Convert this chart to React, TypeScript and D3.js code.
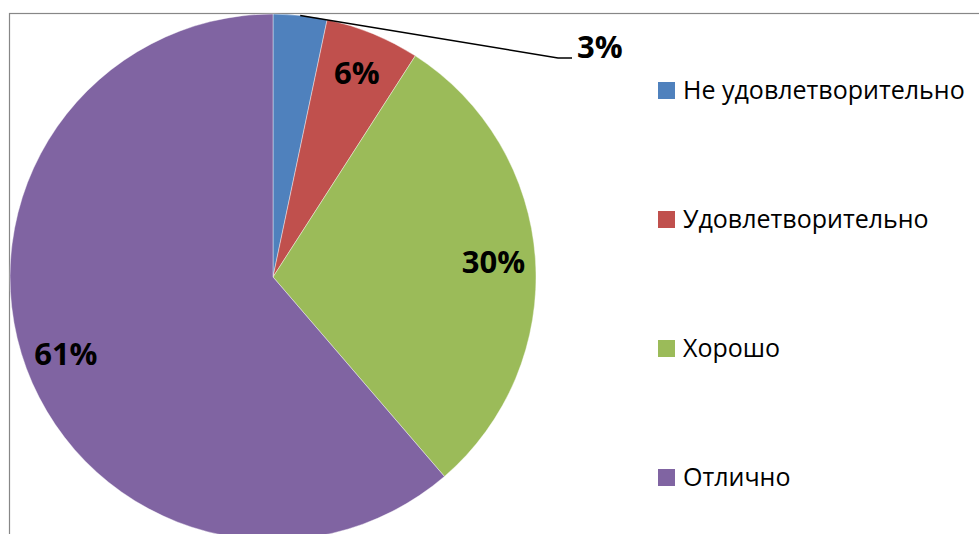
import * as d3 from "d3";
import React from "react";

// shares (percent)
const categories = ["Не удовлетворительно", "Удовлетворительно", "Хорошо", "Отлично"];
const shares = [3.3, 5.8, 29.6, 61.3];
const colors = ["#4F81BD", "#C0504D", "#9BBB59", "#8064A2"];

interface Slice {
  name: string;
  value: number;
  color: string;
}

function PieChart() {
  const svgRef = React.useRef<SVGSVGElement>(null);

  React.useEffect(() => {
    const width = 979;
    const height = 534;
    const cx = 273; // pie centre
    const cy = 277;
    const radius = 263;

    const data: Slice[] = categories.map((name, i) => ({
      name,
      value: shares[i],
      color: colors[i],
    }));
    const total = d3.sum(data, (d) => d.value);
    const fmt = d3.format(".0%");

    const svg = d3.select(svgRef.current);
    svg.selectAll("*").remove();
    svg.attr("width", width).attr("height", height).attr("viewBox", [0, 0, width, height]);

    // chart frame (only top and left are visible in the window)
    svg
      .append("rect")
      .attr("x", 9.5)
      .attr("y", 13.5)
      .attr("width", width + 20)
      .attr("height", height + 20)
      .attr("fill", "#fff")
      .attr("stroke", "#878787")
      .attr("stroke-width", 1.2);

    const pie = d3
      .pie<Slice>()
      .sort(null)
      .value((d) => d.value);
    const arcs = pie(data);

    const arc = d3.arc<d3.PieArcDatum<Slice>>().innerRadius(0).outerRadius(radius);
    const labelArc = d3
      .arc<d3.PieArcDatum<Slice>>()
      .innerRadius(radius * 0.84)
      .outerRadius(radius * 0.84);
    const edgeArc = d3.arc<d3.PieArcDatum<Slice>>().innerRadius(radius).outerRadius(radius);

    const g = svg.append("g").attr("transform", `translate(${cx},${cy})`);

    g.selectAll("path")
      .data(arcs)
      .join("path")
      .attr("d", arc)
      .attr("fill", (d) => d.data.color)
      .attr("stroke", "#fff")
      .attr("stroke-opacity", 0.5)
      .attr("stroke-width", 0.8);

    const labelStyle = (sel: any) =>
      sel
        .attr("font-family", "'Open Sans', 'DejaVu Sans', sans-serif")
        .attr("font-weight", "bold")
        .attr("font-size", 31)
        .attr("fill", "#000");

    // small slice -> label outside with a leader line
    arcs.forEach((d) => {
      const pct = d.value / total;
      if (pct < 0.05) {
        const [sx, sy] = edgeArc.centroid(d);
        const elbow: [number, number] = [radius + 22, -radius + 44];
        g.append("polyline")
          .attr("points", [[sx, sy], elbow, [elbow[0] + 14, elbow[1]]].map((p) => p.join(",")).join(" "))
          .attr("fill", "none")
          .attr("stroke", "#000")
          .attr("stroke-width", 1.5);
        g.append("text")
          .call(labelStyle)
          .attr("x", elbow[0] + 19)
          .attr("y", elbow[1])
          .attr("text-anchor", "start")
          .text(fmt(pct));
      } else {
        const [lx, ly] = labelArc.centroid(d);
        g.append("text")
          .call(labelStyle)
          .attr("x", lx)
          .attr("y", ly)
          .attr("dy", "0.36em")
          .attr("text-anchor", "middle")
          .text(fmt(pct));
      }
    });

    // legend
    const legendY = d3
      .scalePoint<string>()
      .domain(categories)
      .range([90.5, 477.5]);
    const legend = svg
      .append("g")
      .selectAll("g")
      .data(data)
      .join("g")
      .attr("transform", (d) => `translate(658,${legendY(d.name)})`);
    legend
      .append("rect")
      .attr("x", 0)
      .attr("y", -8.5)
      .attr("width", 17)
      .attr("height", 17)
      .attr("fill", (d) => d.color);
    legend
      .append("text")
      .attr("x", 25)
      .attr("y", 0)
      .attr("dy", "0.35em")
      .attr("font-family", "'Open Sans', 'DejaVu Sans', sans-serif")
      .attr("font-size", 25)
      .attr("fill", "#000")
      .text((d) => d.name);
  }, []);

  return <svg ref={svgRef} style={{ position: "absolute", left: 0, top: 0 }} />;
}

export default function App() {
  return <PieChart />;
}
